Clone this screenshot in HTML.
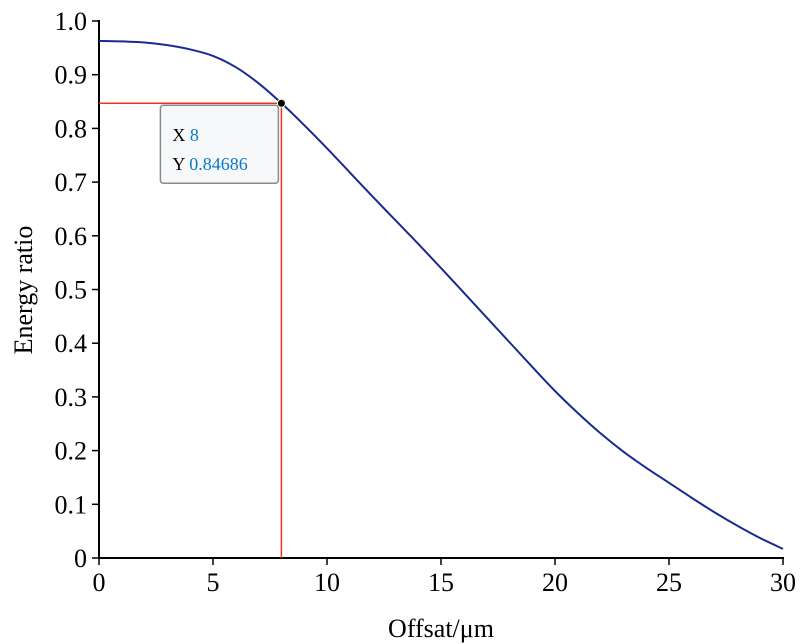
<!DOCTYPE html>
<html><head><meta charset="utf-8"><style>
html,body{margin:0;padding:0;background:#fff;}
svg{display:block;font-family:"Liberation Serif",serif;}
</style></head><body>
<svg id="chart" width="800" height="644">
<g id="axes"></g>
<g id="marks"></g>
<text x="441" y="637" font-size="26" text-anchor="middle">Offsat/μm</text>
<text transform="translate(32,290) rotate(-90)" font-size="26" text-anchor="middle">Energy ratio</text>
</svg>
<script>
const xValues = [0,1,2,3,4,5,6,7,8,9,10,11,12,13,14,15,16,17,18,19,20,21,22,23,24,25,26,27,28,29,30];
const yValues = [0.963,0.962,0.960,0.955,0.947,0.935,0.914,0.884,0.847,0.806,0.763,0.718,0.673,0.629,0.585,0.540,0.494,0.448,0.402,0.356,0.311,0.270,0.232,0.198,0.168,0.140,0.112,0.085,0.060,0.037,0.017];
const xTicks = [0,5,10,15,20,25,30];
const yTicks = [0,0.1,0.2,0.3,0.4,0.5,0.6,0.7,0.8,0.9,1.0];
const yTickLabels = ["0","0.1","0.2","0.3","0.4","0.5","0.6","0.7","0.8","0.9","1.0"];
const cursorX = 8;
const cursorY = 0.84686;

const X0=99,X1=783,Y0=558,Y1=21;
const sx=v=>X0+(v-0)/(30-0)*(X1-X0);
const sy=v=>Y0-(v-0)/(1-0)*(Y0-Y1);
const NS="http://www.w3.org/2000/svg";
const axes=document.getElementById('axes'), marks=document.getElementById('marks');
function mk(tag,attrs,parent){const e=document.createElementNS(NS,tag);for(const k in attrs)e.setAttribute(k,attrs[k]);parent.appendChild(e);return e;}

let e=mk('line',{x1:X0,y1:Y1-1,x2:X0,y2:Y0+1,stroke:'#000','stroke-width':2},axes);


e=mk('line',{x1:X0-1,y1:Y0,x2:X1+1,y2:Y0,stroke:'#000','stroke-width':2},axes);


xTicks.forEach(t=>{
  const x=sx(t);
  const tk=mk('line',{x1:x,y1:Y0,x2:x,y2:Y0+7,stroke:'#000','stroke-width':1.5},axes);
  
  
  const tl=mk('text',{x:x,y:Y0+33,'font-size':26,'text-anchor':'middle'},axes);
  tl.textContent=String(t);
  
  
});
yTicks.forEach((t,i)=>{
  const y=sy(t);
  const tk=mk('line',{x1:X0-7,y1:y,x2:X0,y2:y,stroke:'#000','stroke-width':1.5},axes);
  
  
  const tl=mk('text',{x:X0-12,y:y+9,'font-size':26,'text-anchor':'end'},axes);
  tl.textContent=yTickLabels[i];
  
  
});

const pts=xValues.map((x,i)=>[sx(x),sy(yValues[i])]);
let d='M'+pts[0][0]+','+pts[0][1];
for(let i=0;i<pts.length-1;i++){
  const p0=pts[Math.max(0,i-1)],p1=pts[i],p2=pts[i+1],p3=pts[Math.min(pts.length-1,i+2)];
  const c1=[p1[0]+(p2[0]-p0[0])/6,p1[1]+(p2[1]-p0[1])/6];
  const c2=[p2[0]-(p3[0]-p1[0])/6,p2[1]-(p3[1]-p1[1])/6];
  d+=` C${c1[0]},${c1[1]} ${c2[0]},${c2[1]} ${p2[0]},${p2[1]}`;
}
e=mk('path',{d:d,fill:'none',stroke:'#1a2a8f','stroke-width':2},marks);



const cx=sx(cursorX),cy=sy(cursorY);
e=mk('line',{x1:X0,y1:cy,x2:cx,y2:cy,stroke:'#f03020','stroke-width':1.5},marks);


e=mk('line',{x1:cx,y1:cy,x2:cx,y2:Y0,stroke:'#f03020','stroke-width':1.5},marks);


e=mk('circle',{cx:cx,cy:cy,r:4,fill:'#000',stroke:'#ffffc0','stroke-width':1},marks);



const tip=mk('g',{},marks);


mk('rect',{x:cx-121,y:cy+2,width:118,height:78,rx:3,fill:'#f7f8fa',stroke:'#8a8a8a','stroke-width':1.5},tip);
const t1=mk('text',{x:cx-109,y:cy+38,'font-size':18},tip);
t1.innerHTML='X <tspan fill="#0a78c8">'+cursorX+'</tspan>';
const t2=mk('text',{x:cx-109,y:cy+67,'font-size':18},tip);
t2.innerHTML='Y <tspan fill="#0a78c8">'+cursorY+'</tspan>';
</script>
</body></html>
